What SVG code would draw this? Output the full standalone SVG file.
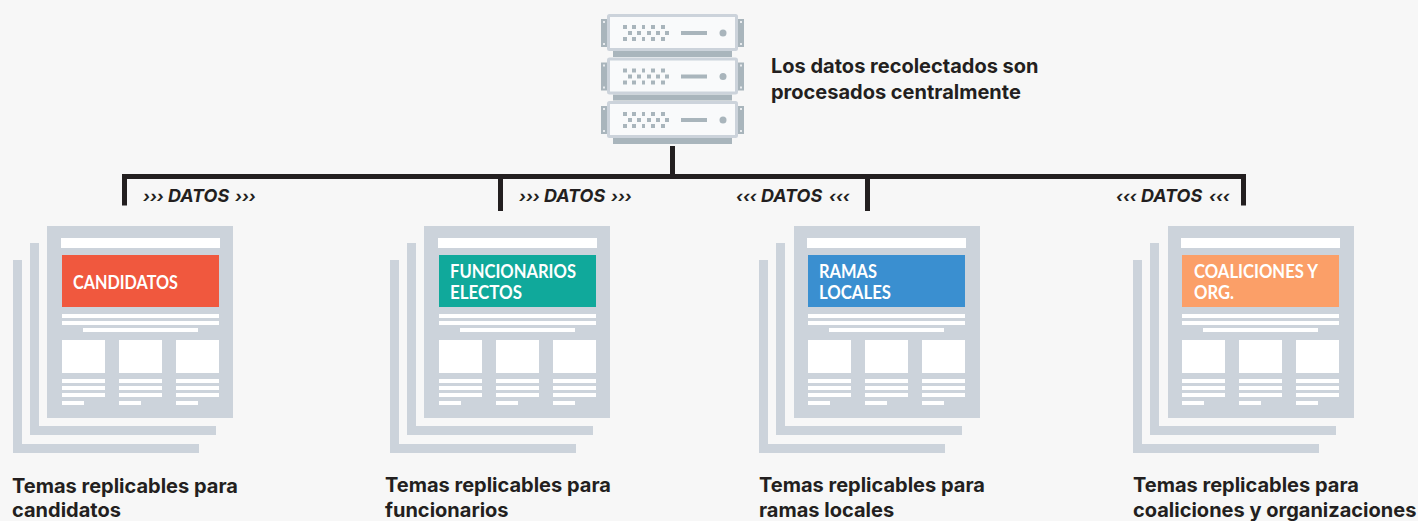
<svg xmlns="http://www.w3.org/2000/svg" width="1418" height="521" viewBox="0 0 1418 521">
<style>
.pg{fill:#ccd3db}
.w{fill:#fff}
.lbl{font-family:"Inter","Liberation Sans",sans-serif;font-weight:700;font-size:20px;fill:#231f20}
.dat{font-family:"Inter","Liberation Sans",sans-serif;font-weight:700;font-style:italic;font-size:18px;fill:#231f20}
.chev{font-size:16px}
.tt{font-family:"Lato","Liberation Sans",sans-serif;font-weight:700;font-size:18px;fill:#fff}
.fr{fill:#f9fafb;stroke:#ccd3db;stroke-width:3}
.dk{fill:#a9b5bc}
.conn{fill:none;stroke:#231f20;stroke-width:5}
</style>
<defs>
<rect id="sheet" class="pg" x="47" y="226" width="186" height="192"/>
<g id="page">
<path class="pg" d="M13 260h9v184h177v9H13zM30 243h9v183h177v9H30z"/>
<rect class="w" x="61" y="238" width="159" height="10"/>
</g>
<g id="rows">
<path class="w" d="M62 314h157v4H62zM62 321h157v4H62zM83 328h115v4H83z"/>
<path class="w" d="M62 340h43v33H62zM119 340h43v33h-43zM176 340h43v33h-43z"/>
<path class="w" d="M62 379h43v4H62zM62 386h43v4H62zM62 393h43v4H62zM62 401h22v4H62zM119 379h43v4h-43zM119 386h43v4h-43zM119 393h43v4h-43zM119 401h22v4h-22zM176 379h43v4h-43zM176 386h43v4h-43zM176 393h43v4h-43zM176 401h22v4h-22z"/>
</g>
<g id="unit">
<path class="dk" d="M601 19h6v28h-6zM738 19h6v28h-6z"/>
<path d="M603 21h2v2h-2zM603 43h2v2h-2zM740 21h2v2h-2zM740 43h2v2h-2z" fill="#e8ebee"/>
<rect class="dk" x="613" y="51" width="119" height="6"/>
<rect class="fr" x="608.500" y="15.500" width="128" height="34" rx="1"/>
<path class="dk" d="M623 25h4v4h-4zM632 25h4v4h-4zM642 25h3v4h-3zM651 25h4v4h-4zM661 25h4v4h-4zM628 31h4v4h-4zM637 31h4v4h-4zM647 31h4v4h-4zM656 31h4v4h-4zM665 31h4v4h-4zM623 37h4v4h-4zM632 37h4v4h-4zM642 37h3v4h-3zM651 37h4v4h-4zM661 37h4v4h-4z"/>
<rect class="dk" x="681" y="31" width="26" height="4"/>
<circle class="dk" cx="723" cy="33" r="3.500"/>
</g>
</defs>
<rect width="1418" height="521" fill="#f7f7f7"/>
<g id="connectors">
<path class="conn" d="M672.500 146V176.500"/>
<path class="conn" d="M124.500 205.500V176.500H1243.500V205.500"/>
<path class="conn" d="M500.500 176.500V211M867.500 176.500V211"/>
</g>
<g id="server">
<use href="#unit"/>
<use href="#unit" y="43.500"/>
<use href="#unit" y="87"/>
<text class="lbl" x="771" y="73">Los datos recolectados son</text>
<text class="lbl" x="771" y="99">procesados centralmente</text>
</g>
<g id="flow-1"><text class="dat" y="202"><tspan class="chev" x="143">›››</tspan> <tspan x="168">DATOS</tspan> <tspan class="chev" x="235">›››</tspan></text></g>
<g id="flow-2"><text class="dat" y="202"><tspan class="chev" x="519">›››</tspan> <tspan x="544">DATOS</tspan> <tspan class="chev" x="611">›››</tspan></text></g>
<g id="flow-3"><text class="dat" y="202"><tspan class="chev" x="736">‹‹‹</tspan> <tspan x="761">DATOS</tspan> <tspan class="chev" x="829">‹‹‹</tspan></text></g>
<g id="flow-4"><text class="dat" y="202"><tspan class="chev" x="1116">‹‹‹</tspan> <tspan x="1141">DATOS</tspan> <tspan class="chev" x="1209">‹‹‹</tspan></text></g>
<g id="candidatos">
<use href="#sheet"/><use href="#page"/><use href="#rows"/>
<rect x="62" y="255" width="157" height="52" fill="#f0583e"/>
<text class="tt" x="73" y="289" textLength="105" lengthAdjust="spacingAndGlyphs">CANDIDATOS</text>
<text class="lbl" x="12" y="493">Temas replicables para</text>
<text class="lbl" x="12" y="516.500">candidatos</text>
</g>
<g id="funcionarios">
<use href="#sheet" x="377"/><use href="#page" x="377"/><use href="#rows" x="377"/>
<rect x="439" y="255" width="157" height="52" fill="#10a99b"/>
<text class="tt" x="450" y="278" textLength="126" lengthAdjust="spacingAndGlyphs">FUNCIONARIOS</text>
<text class="tt" x="450" y="299" textLength="72" lengthAdjust="spacingAndGlyphs">ELECTOS</text>
<text class="lbl" x="385" y="492">Temas replicables para</text>
<text class="lbl" x="385" y="516.500">funcionarios</text>
</g>
<g id="ramas">
<use href="#sheet" x="747"/><use href="#page" x="746"/><use href="#rows" x="746"/>
<rect x="808" y="255" width="157" height="52" fill="#3a8fd0"/>
<text class="tt" x="819" y="278" textLength="58" lengthAdjust="spacingAndGlyphs">RAMAS</text>
<text class="tt" x="819" y="299" textLength="72" lengthAdjust="spacingAndGlyphs">LOCALES</text>
<text class="lbl" x="759" y="492">Temas replicables para</text>
<text class="lbl" x="759" y="516.500">ramas locales</text>
</g>
<g id="coaliciones">
<use href="#sheet" x="1121"/><use href="#page" x="1120"/><use href="#rows" x="1120"/>
<rect x="1182" y="255" width="157" height="52" fill="#fb9f68"/>
<text class="tt" x="1194" y="278" textLength="124" lengthAdjust="spacingAndGlyphs">COALICIONES Y</text>
<text class="tt" x="1194" y="299" textLength="40" lengthAdjust="spacingAndGlyphs">ORG.</text>
<text class="lbl" x="1133" y="492">Temas replicables para</text>
<text class="lbl" x="1133" y="516.500">coaliciones y organizaciones</text>
</g>
</svg>
